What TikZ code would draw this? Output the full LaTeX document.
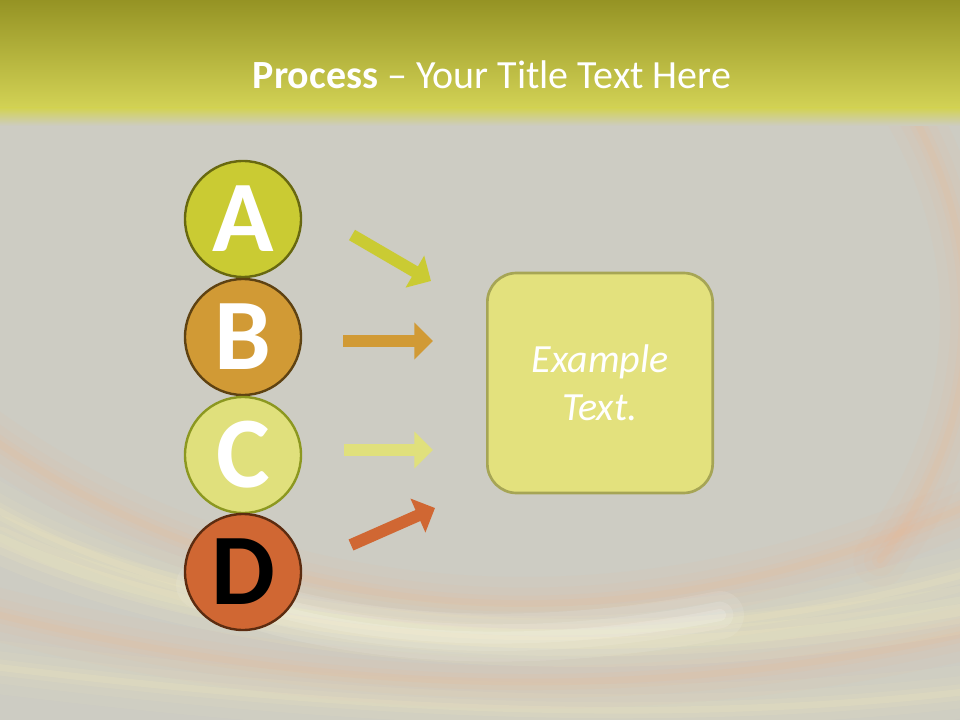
\documentclass[tikz,border=0pt]{standalone}
\usepackage{fontspec}
\setmainfont{Carlito}
\usetikzlibrary{arrows.meta}
\definecolor{bg}{HTML}{CDCCC3}
\definecolor{hdtop}{HTML}{959324}
\definecolor{hdbot}{HTML}{D2D255}
\definecolor{fillA}{HTML}{CACB33}\definecolor{lineA}{HTML}{686810}
\definecolor{fillB}{HTML}{D19A35}\definecolor{lineB}{HTML}{5E4212}
\definecolor{fillC}{HTML}{E0E07C}\definecolor{lineC}{HTML}{8C9820}
\definecolor{fillD}{HTML}{D06733}\definecolor{lineD}{HTML}{5C2C10}
\definecolor{boxfill}{HTML}{E3E17D}\definecolor{boxline}{HTML}{A6A555}
\definecolor{glowO}{HTML}{F0B88E}\definecolor{glowY}{HTML}{FBF2BE}
\tikzset{
  letter/.style={circle,minimum size=87pt,inner sep=0pt,line width=1.8pt,
    font=\fontsize{76}{76}\selectfont\bfseries,text=white},
  flow/.style={line width=9pt,-{Triangle[width=27pt,length=14pt]}},
  glow/.style={line cap=round,opacity=#1},
}
\begin{document}
\begin{tikzpicture}[x=0.75pt,y=-0.75pt]
\useasboundingbox (0,0) rectangle (960,720);
\fill[bg] (0,0) rectangle (960,720);
% glow arcs
\begin{scope}
\foreach \w/\o in {40/0.06,24/0.08,12/0.10,5/0.14}{
  \draw[glowO,glow=\o,line width=\w] (-20,430) .. controls (200,590) and (560,690) .. (980,500);
  \draw[glowY,glow=\o,line width=\w] (-20,500) .. controls (180,620) and (560,690) .. (980,570);
  \draw[glowO,glow=\o,line width=\w] (-20,610) .. controls (250,680) and (600,720) .. (980,630);
  \draw[glowY,glow=\o,line width=\w] (-20,665) .. controls (300,705) and (650,730) .. (980,690);
  \draw[glowO,glow=\o,line width=\w] (910,110) .. controls (990,250) and (990,420) .. (880,560);
}
\foreach \w/\o in {36/0.10,20/0.12,9/0.16}{
  \draw[white,glow=\o,line width=\w] (200,585) .. controls (330,640) and (520,655) .. (720,615);
  \draw[glowY,glow=\o,line width=\w] (0,540) .. controls (200,630) and (560,680) .. (960,610);
}
\end{scope}
% header
\shade[top color=hdtop,bottom color=hdbot] (0,0) rectangle (960,108);
\shade[top color=hdbot,bottom color=bg] (0,108) rectangle (960,126);
\node[text=white,font=\fontsize{30}{30}\selectfont] (title) at (492,75)
  {\textbf{Process} – Your Title Text Here};
% circles
\node[letter,fill=fillA,draw=lineA] (A) at (243,219) {A};
\node[letter,fill=fillB,draw=lineB] (B) at (243,337) {B};
\node[letter,fill=fillC,draw=lineC] (C) at (243,455) {C};
\node[letter,fill=fillD,draw=lineD,text=black] (D) at (243,572) {D};
% box
\node[draw=boxline,fill=boxfill,line width=2pt,rounded corners=22pt,
  minimum width=169pt,minimum height=165pt,text=white,align=center,
  font=\fontsize{30}{36}\selectfont\itshape] (box) at (600,383) {Example\\Text.};
% arrows
\coordinate (a1) at (352,235); \coordinate (a2) at (431,281);
\coordinate (b1) at (343,341); \coordinate (b2) at (433,341);
\coordinate (c1) at (344,450); \coordinate (c2) at (433,450);
\coordinate (d1) at (351,545); \coordinate (d2) at (435,508);
\draw[flow,fillA] (a1) -- (a2);
\draw[flow,fillB] (b1) -- (b2);
\draw[flow,fillC] (c1) -- (c2);
\draw[flow,fillD] (d1) -- (d2);
\end{tikzpicture}
\end{document}
